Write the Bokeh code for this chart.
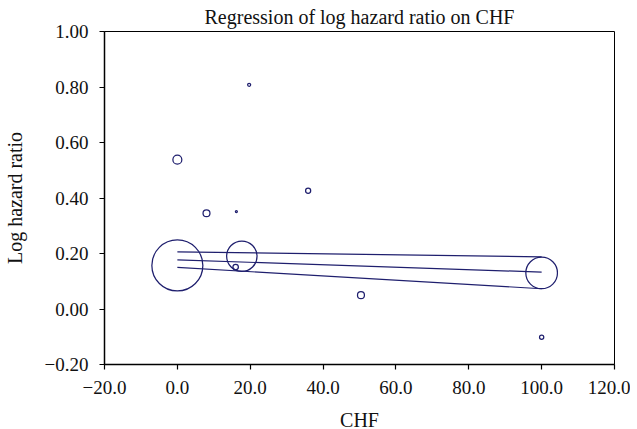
from bokeh.plotting import figure
from bokeh.models import FixedTicker, Range1d
from bokeh.embed import file_html
from bokeh.resources import INLINE
import math

# Study-level data (CHF %, log hazard ratio, weight)
chf = [0.0, 17.7, 16.0, 0.0, 8.0, 16.2, 35.9, 50.4, 19.7, 100.0, 100.0]
log_hr = [0.157, 0.190, 0.151, 0.538, 0.345, 0.351, 0.426, 0.050, 0.808, 0.130, -0.102]
weight = [650, 231, 7.5, 20, 12, 1, 6.5, 12, 2.3, 250, 4.5]

# Meta-regression fit and confidence limits
reg_x = [0.0, 100.0]
reg_fit = [0.177, 0.133]
reg_upper = [0.206, 0.188]
reg_lower = [0.150, 0.073]

x_ticks = [-20, 0, 20, 40, 60, 80, 100, 120]
x_labels = ["\u221220.0", "0.0", "20.0", "40.0", "60.0", "80.0", "100.0", "120.0"]
y_ticks = [-0.2, 0.0, 0.2, 0.4, 0.6, 0.8, 1.0]
y_labels = ["\u22120.20", "0.00", "0.20", "0.40", "0.60", "0.80", "1.00"]

NAVY = "#1f1f6e"
FONT = "Liberation Serif"

p = figure(frame_width=510, frame_height=333,
           x_range=Range1d(-20, 120), y_range=Range1d(-0.2, 1.0),
           output_backend="svg", toolbar_location=None,
           min_border_left=95, min_border_top=26, min_border_right=16, min_border_bottom=48,
           title="Regression of log hazard ratio on CHF")

p.title.align = "center"
p.title.text_font = FONT
p.title.text_font_size = "20px"
p.title.text_font_style = "normal"
p.title.text_color = "#111111"
p.title.standoff = 7
p.title.offset = 0

sizes = [2 * math.sqrt(w) for w in weight]
p.scatter(chf, log_hr, size=sizes, marker="circle", fill_color=None,
          line_color=NAVY, line_width=1.25)

for ys in (reg_upper, reg_fit, reg_lower):
    p.line(reg_x, ys, line_color=NAVY, line_width=1.2)

p.xgrid.visible = False
p.ygrid.visible = False
p.outline_line_color = "black"
p.outline_line_width = 1

p.xaxis.ticker = FixedTicker(ticks=x_ticks)
p.yaxis.ticker = FixedTicker(ticks=y_ticks)
p.xaxis.major_label_overrides = dict(zip(x_ticks, x_labels))
p.yaxis.major_label_overrides = dict(zip(y_ticks, y_labels))

for ax in (p.xaxis[0], p.yaxis[0]):
    ax.major_tick_out = 5
    ax.major_tick_in = 0
    ax.minor_tick_out = 0
    ax.minor_tick_in = 0
    ax.axis_line_color = "black"
    ax.axis_line_width = 1.5
    ax.major_tick_line_color = "black"
    ax.major_tick_line_width = 1.2
    ax.major_label_text_font = FONT
    ax.major_label_text_font_size = "19px"
    ax.major_label_text_color = "#111111"
    ax.axis_label_text_font = FONT
    ax.axis_label_text_font_size = "20px"
    ax.axis_label_text_font_style = "normal"
    ax.axis_label_text_color = "#111111"

p.xaxis.axis_label = "CHF"
p.yaxis.axis_label = "Log hazard ratio"
p.xaxis.major_label_standoff = 11
p.yaxis.major_label_standoff = 11
p.xaxis.axis_label_standoff = 12
p.yaxis.axis_label_standoff = 16

open("out.html", "w").write(file_html(p, INLINE))
